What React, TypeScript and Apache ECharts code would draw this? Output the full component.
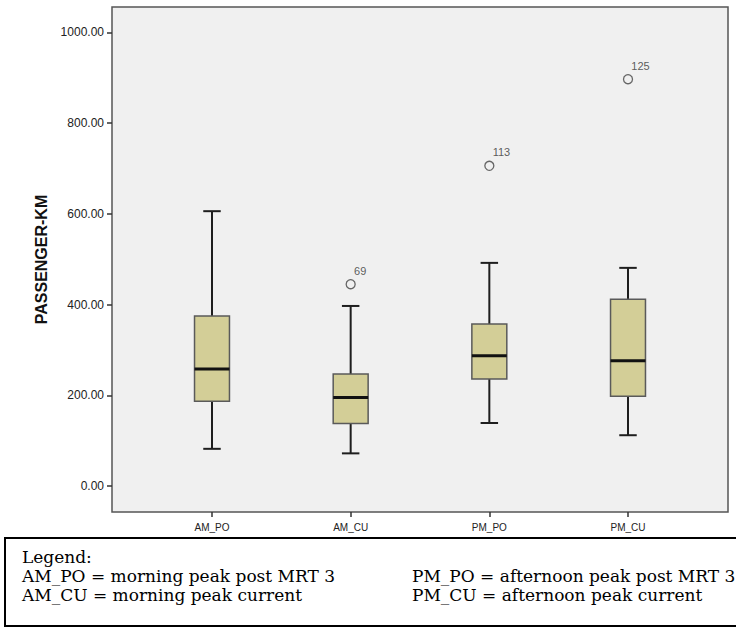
import React, { useEffect, useRef } from "react";
import * as echarts from "echarts";

const categories = ["AM_PO", "AM_CU", "PM_PO", "PM_CU"];
const whiskerLow = [82, 72, 139, 112];
const quartile1 = [187, 138, 236, 198];
const medians = [258, 195, 287, 276];
const quartile3 = [375, 247, 357, 412];
const whiskerHigh = [606, 397, 492, 481];
const outlierCategory = [1, 2, 3];
const outlierValues = [445, 706, 897];
const outlierIds = ["69", "113", "125"];
const yTickValues = [0, 200, 400, 600, 800, 1000];
const yAxisTitle = "PASSENGER-KM";
const legendTitle = "Legend:";
const legendLeft = ["AM_PO = morning peak post MRT 3", "AM_CU = morning peak current"];
const legendRight = ["PM_PO = afternoon peak post MRT 3", "PM_CU = afternoon peak current"];

export default function App() {
  const ref = useRef<HTMLDivElement>(null);
  useEffect(() => {
    if (!ref.current) return;
    const chart = echarts.init(ref.current, undefined, { renderer: "svg" });
    const catPositions = categories.map((_, i) => i + 1);
    const boxData = categories.map((_, i) => [
      catPositions[i],
      whiskerLow[i],
      quartile1[i],
      medians[i],
      quartile3[i],
      whiskerHigh[i],
    ]);
    const outlierData = outlierCategory.map((c, i) => [catPositions[c], outlierValues[i], outlierIds[i]]);
    const serif = "'DejaVu Serif', 'Liberation Serif', serif";
    const sans = "'Liberation Sans', Arial, sans-serif";
    const legendFont = `17px ${serif}`;
    const legendText = (text: string, x: number, y: number) => ({
      type: "text",
      x,
      y,
      style: { text, font: legendFont, fill: "#000", verticalAlign: "middle", lineHeight: 17 },
    });
    chart.setOption({
      animation: false,
      backgroundColor: "#ffffff",
      grid: {
        left: 112,
        right: 8,
        top: 7,
        bottom: 116,
        show: true,
        backgroundColor: "#f0f0f0",
        borderColor: "#555555",
        borderWidth: 1.5,
      },
      xAxis: {
        type: "value",
        min: 0.2789,
        max: 4.7211,
        position: "bottom",
        axisLine: { show: false, onZero: false },
        axisTick: {
          show: true,
          length: 5,
          customValues: catPositions,
          lineStyle: { color: "#333", width: 1.5 },
        },
        axisLabel: {
          margin: 10,
          fontSize: 10,
          color: "#222",
          fontFamily: sans,
          customValues: catPositions,
          formatter: (v: number) => categories[Math.round(v) - 1] ?? "",
        },
        splitLine: { show: false },
      },
      yAxis: {
        type: "value",
        min: -57.3,
        max: 1056.2,
        position: "left",
        name: yAxisTitle,
        nameLocation: "middle",
        nameGap: 62,
        nameTextStyle: { fontSize: 16, fontWeight: "bold", color: "#111", fontFamily: sans },
        axisLine: { show: false, onZero: false },
        axisTick: {
          show: true,
          length: 5,
          customValues: yTickValues,
          lineStyle: { color: "#333", width: 1.5 },
        },
        axisLabel: {
          margin: 8,
          fontSize: 12,
          color: "#222",
          fontFamily: sans,
          customValues: yTickValues,
          formatter: (v: number) => v.toFixed(2),
        },
        splitLine: { show: false },
      },
      graphic: [
        {
          type: "rect",
          z: -10,
          shape: { x: 5, y: 538, width: 740, height: 88 },
          style: { fill: "#ffffff", stroke: "#000000", lineWidth: 2 },
        },
        legendText(legendTitle, 22, 557),
        ...legendLeft.map((t, i) => legendText(t, 22, 576 + i * 19)),
        ...legendRight.map((t, i) => legendText(t, 412, 576 + i * 19)),
      ],
      series: [
        {
          type: "custom",
          data: boxData,
          encode: { x: 0, y: [1, 2, 3, 4, 5] },
          z: 3,
          renderItem: (params: any, api: any) => {
            const xv = api.value(0);
            const lo = api.coord([xv, api.value(1)]);
            const q1 = api.coord([xv, api.value(2)]);
            const md = api.coord([xv, api.value(3)]);
            const q3 = api.coord([xv, api.value(4)]);
            const hi = api.coord([xv, api.value(5)]);
            const unit = api.size([1, 0])[0];
            const w = unit * 0.252;
            const x = md[0];
            const cap = w / 4;
            const wStyle = { stroke: "#1e1e1e", lineWidth: 2 };
            return {
              type: "group",
              children: [
                { type: "line", shape: { x1: x, y1: hi[1], x2: x, y2: q3[1] }, style: wStyle },
                { type: "line", shape: { x1: x, y1: q1[1], x2: x, y2: lo[1] }, style: wStyle },
                { type: "line", shape: { x1: x - cap, y1: hi[1], x2: x + cap, y2: hi[1] }, style: wStyle },
                { type: "line", shape: { x1: x - cap, y1: lo[1], x2: x + cap, y2: lo[1] }, style: wStyle },
                {
                  type: "rect",
                  shape: { x: x - w / 2, y: q3[1], width: w, height: q1[1] - q3[1] },
                  style: { fill: "#d3ce97", stroke: "#5a5a5a", lineWidth: 1.5 },
                },
                {
                  type: "line",
                  shape: { x1: x - w / 2, y1: md[1], x2: x + w / 2, y2: md[1] },
                  style: { stroke: "#111", lineWidth: 3 },
                },
              ],
            };
          },
        },
        {
          type: "scatter",
          data: outlierData,
          z: 4,
          symbol: "circle",
          symbolSize: 9,
          itemStyle: { color: "rgba(0,0,0,0)", borderColor: "#444", borderWidth: 1.3 },
          label: {
            show: true,
            formatter: (p: any) => p.value[2],
            position: [8.5, -8.5],
            align: "left",
            verticalAlign: "middle",
            fontSize: 11,
            color: "#333333",
            fontFamily: sans,
          },
        },
      ],
    });
    return () => chart.dispose();
  }, []);
  return (
    <div
      ref={ref}
      style={{ position: "fixed", left: 0, top: 0, width: 736, height: 628 }}
    />
  );
}
